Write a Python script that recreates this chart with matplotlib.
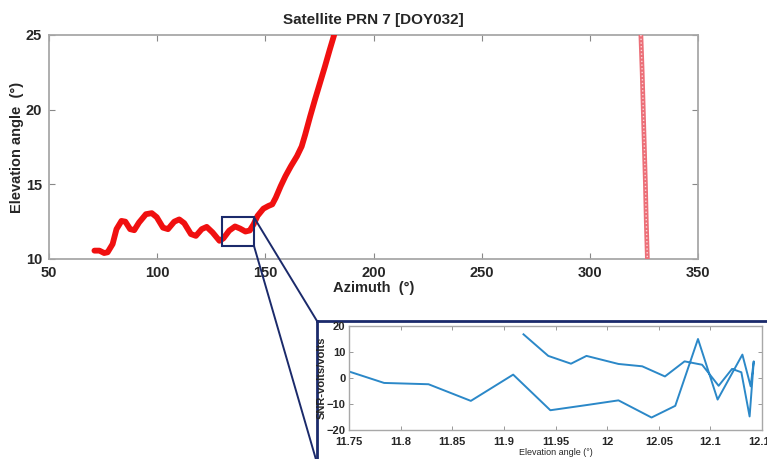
import matplotlib
matplotlib.use('Agg')
import matplotlib.pyplot as plt
from matplotlib.patches import Rectangle, ConnectionPatch

plt.rcParams['font.family'] = ['Liberation Sans', 'DejaVu Sans']

# --- data ---
# first pass of the satellite (azimuth, elevation)
az_pass1 = [71.0, 73.3, 75.5, 77.1, 79.4, 81.2, 83.5, 85.3, 87.5, 89.4, 91.6, 94.8,
            97.5, 99.8, 102.7, 105.0, 107.9, 110.2, 112.5, 115.6, 117.9, 120.6, 122.9,
            125.6, 128.8, 130.6, 133.3, 136.0, 138.3, 140.8, 142.8, 144.6, 146.4, 149.1,
            151.4, 153.2, 154.8, 157.1, 159.3, 161.8, 164.6, 166.8, 168.4, 170.7, 172.9,
            175.2, 177.5, 179.7, 181.8]
el_pass1 = [10.56, 10.56, 10.40, 10.45, 11.00, 12.00, 12.55, 12.50, 12.00, 11.93, 12.44, 13.00,
            13.07, 12.80, 12.10, 12.00, 12.50, 12.65, 12.40, 11.67, 11.55, 12.00, 12.15,
            11.78, 11.22, 11.38, 11.90, 12.18, 12.04, 11.84, 11.91, 12.33, 12.89, 13.37,
            13.55, 13.66, 14.10, 14.88, 15.55, 16.21, 16.88, 17.54, 18.32, 19.54, 20.65,
            21.76, 22.87, 23.98, 25.0]
# second pass
az_pass2 = [323.6, 324.2, 324.7, 325.2, 325.7, 326.1, 326.6]
el_pass2 = [25.0, 22.5, 20.0, 17.5, 15.0, 12.5, 10.0]

# zoomed window in the main plot (azimuth / elevation)
zoom_az = [130.0, 144.7]
zoom_el = [10.9, 12.8]

# SNR residual vs elevation inside the zoom window
snr_elev = [11.75, 11.784, 11.827, 11.868, 11.909, 11.945, 11.982, 12.011, 12.043, 12.066,
            12.088, 12.107, 12.131, 12.139, 12.142, 12.138, 12.130, 12.121, 12.108, 12.092,
            12.075, 12.056, 12.034, 12.011, 11.980, 11.965, 11.943, 11.919]
snr_vals = [2.5, -1.9, -2.4, -8.8, 1.3, -12.4, -10.3, -8.6, -15.2, -10.7,
            15.0, -8.3, 9.0, -3.2, 6.4, -14.8, 2.2, 3.5, -3.0, 5.1,
            6.4, 0.6, 4.5, 5.4, 8.5, 5.5, 8.5, 16.8]

main_xticks = [50, 100, 150, 200, 250, 300, 350]
main_yticks = [10, 15, 20, 25]
inset_xticks = [11.75, 11.8, 11.85, 11.9, 11.95, 12.0, 12.05, 12.1, 12.15]
inset_xlabels = ['11.75', '11.8', '11.85', '11.9', '11.95', '12', '12.05', '12.1', '12.15']
inset_yticks = [-20, -10, 0, 10, 20]

navy = '#1b2a6b'
spine_gray = '#a8a8a8'
txt = '#262626'

W, H = 767, 459


def px(l, t, r, b):
    return [l / W, 1 - b / H, (r - l) / W, (b - t) / H]


fig = plt.figure(figsize=(W / 100, H / 100), dpi=100)

##### main axes
ax = fig.add_axes(px(49, 35, 698, 259))
ax.plot(az_pass1, el_pass1, '-', color='#f01010', linewidth=4.2, solid_capstyle='round', zorder=3)
# second pass: pink chain of open circles
ax.plot(az_pass2, el_pass2, '-', color='#ec6f78', linewidth=3.4, zorder=3)
ax.plot(az_pass2, el_pass2, ':', color='#fbd8da', linewidth=1.0, zorder=3)
ax.set_xlim(50, 350)
ax.set_ylim(10, 25)
ax.set_xticks(main_xticks)
ax.set_yticks(main_yticks)
ax.tick_params(direction='in', top=True, right=True, length=4, width=0.8, color='#888888',
               labelcolor=txt, labelsize=10.5, pad=5)
for lab in ax.get_xticklabels() + ax.get_yticklabels():
    lab.set_fontweight('bold')
for s in ax.spines.values():
    s.set_color(spine_gray)
    s.set_linewidth(1.3)
ax.set_title('Satellite PRN 7 [DOY032]', fontsize=11, fontweight='bold', color=txt, pad=8)
ax.set_xlabel('Azimuth  (°)', fontsize=10.5, fontweight='bold', color=txt, labelpad=1)
ax.set_ylabel('Elevation angle  (°)', fontsize=10.5, fontweight='bold', color=txt, labelpad=1)

rect = Rectangle((zoom_az[0], zoom_el[0]), zoom_az[1] - zoom_az[0], zoom_el[1] - zoom_el[0],
                 fill=False, edgecolor=navy, linewidth=1.5, zorder=5)
ax.add_patch(rect)

##### inset frame + inset axes
frame = fig.add_axes(px(317, 321, 800, 463))
frame.set_xticks([])
frame.set_yticks([])
for s in frame.spines.values():
    s.set_color(navy)
    s.set_linewidth(2)
frame.spines['bottom'].set_visible(False)

axin = fig.add_axes(px(349, 326, 762, 430))
axin.plot(snr_elev, snr_vals, color='#2b88c8', linewidth=1.4)
axin.set_xlim(11.75, 12.15)
axin.set_ylim(-20, 20)
axin.set_xticks(inset_xticks)
axin.set_xticklabels(inset_xlabels)
axin.set_yticks(inset_yticks)
axin.tick_params(direction='in', top=True, right=True, length=3, width=0.7, color='#999999',
                 labelcolor=txt, labelsize=8, pad=2.5)
axin.tick_params(axis='x', pad=5)
for lab in axin.get_xticklabels() + axin.get_yticklabels():
    lab.set_fontweight('bold')
for s in axin.spines.values():
    s.set_color(spine_gray)
    s.set_linewidth(1.0)
axin.set_xlabel('Elevation angle (°)', fontsize=6.5, color=txt, labelpad=1)
axin.set_ylabel('SNR-volts/volts', fontsize=8, fontweight='bold', color=txt)
axin.yaxis.set_label_coords(-0.053, 0.5)

##### connector lines from zoom box to inset frame
c1 = ConnectionPatch(xyA=(zoom_az[1], zoom_el[1]), coordsA=ax.transData,
                     xyB=(0, 1), coordsB=frame.transAxes, color=navy, linewidth=1.4)
c2 = ConnectionPatch(xyA=(zoom_az[1], zoom_el[0]), coordsA=ax.transData,
                     xyB=(0, 0), coordsB=frame.transAxes, color=navy, linewidth=1.4)
fig.add_artist(c1)
fig.add_artist(c2)

fig.savefig('out.png', dpi=100)
